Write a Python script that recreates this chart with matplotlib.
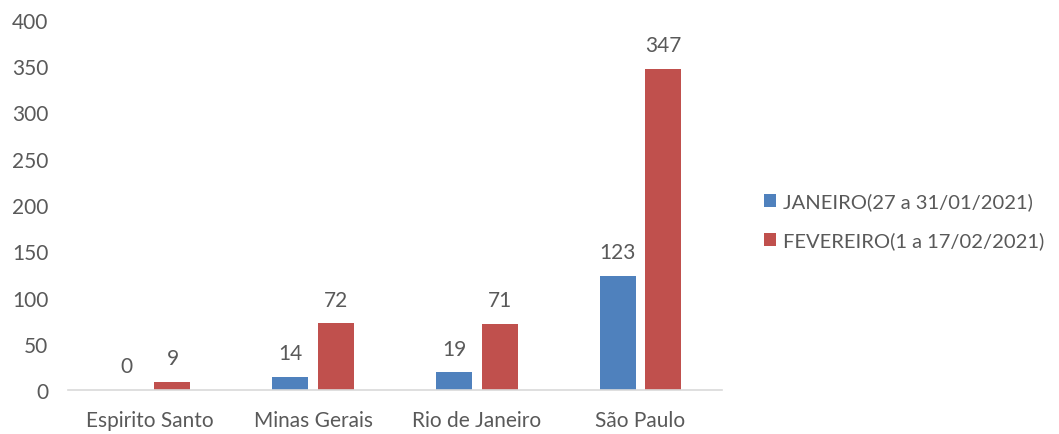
import numpy as np
import matplotlib.pyplot as plt

estados = ['Espirito Santo', 'Minas Gerais', 'Rio de Janeiro', 'São Paulo']
janeiro = [0, 14, 19, 123]
fevereiro = [9, 72, 71, 347]
rotulos = ['JANEIRO(27 a 31/01/2021)', 'FEVEREIRO(1 a 17/02/2021)']

azul = '#4F81BD'
vermelho = '#C0504D'
cinza = '#595959'

plt.rcParams['font.family'] = ['Lato', 'DejaVu Sans']

fig = plt.figure(figsize=(10.59, 4.35), dpi=100)
ax = fig.add_axes([0.064, 0.101, 0.618, 0.851])

x = np.arange(len(estados))
w = 0.22
b1 = ax.bar(x - 0.14, janeiro, w, color=azul, label=rotulos[0])
b2 = ax.bar(x + 0.14, fevereiro, w, color=vermelho, label=rotulos[1])

for barras in (b1, b2):
    for b in barras:
        h = b.get_height()
        ax.text(b.get_x() + b.get_width() / 2, h + 15, str(int(h)),
                ha='center', va='bottom', fontsize=15, color=cinza)

ax.set_ylim(0, 400)
ax.set_yticks(range(0, 401, 50))
ax.set_xlim(-0.5, 3.5)
ax.set_xticks(x)
ax.set_xticklabels(estados)
ax.tick_params(axis='both', length=0, labelsize=15, colors=cinza)
ax.tick_params(axis='y', pad=14)
ax.tick_params(axis='x', pad=14)
for s in ['top', 'right', 'left']:
    ax.spines[s].set_visible(False)
ax.spines['bottom'].set_color('#D9D9D9')
ax.spines['bottom'].set_linewidth(1.2)

fig.legend(loc='center left', bbox_to_anchor=(0.721, 0.49), frameon=False,
           fontsize=14.5, labelcolor=cinza, handlelength=0.6, handleheight=0.6,
           handletextpad=0.35, labelspacing=1.05, borderaxespad=0, borderpad=0)

fig.savefig('out.png', dpi=100)
